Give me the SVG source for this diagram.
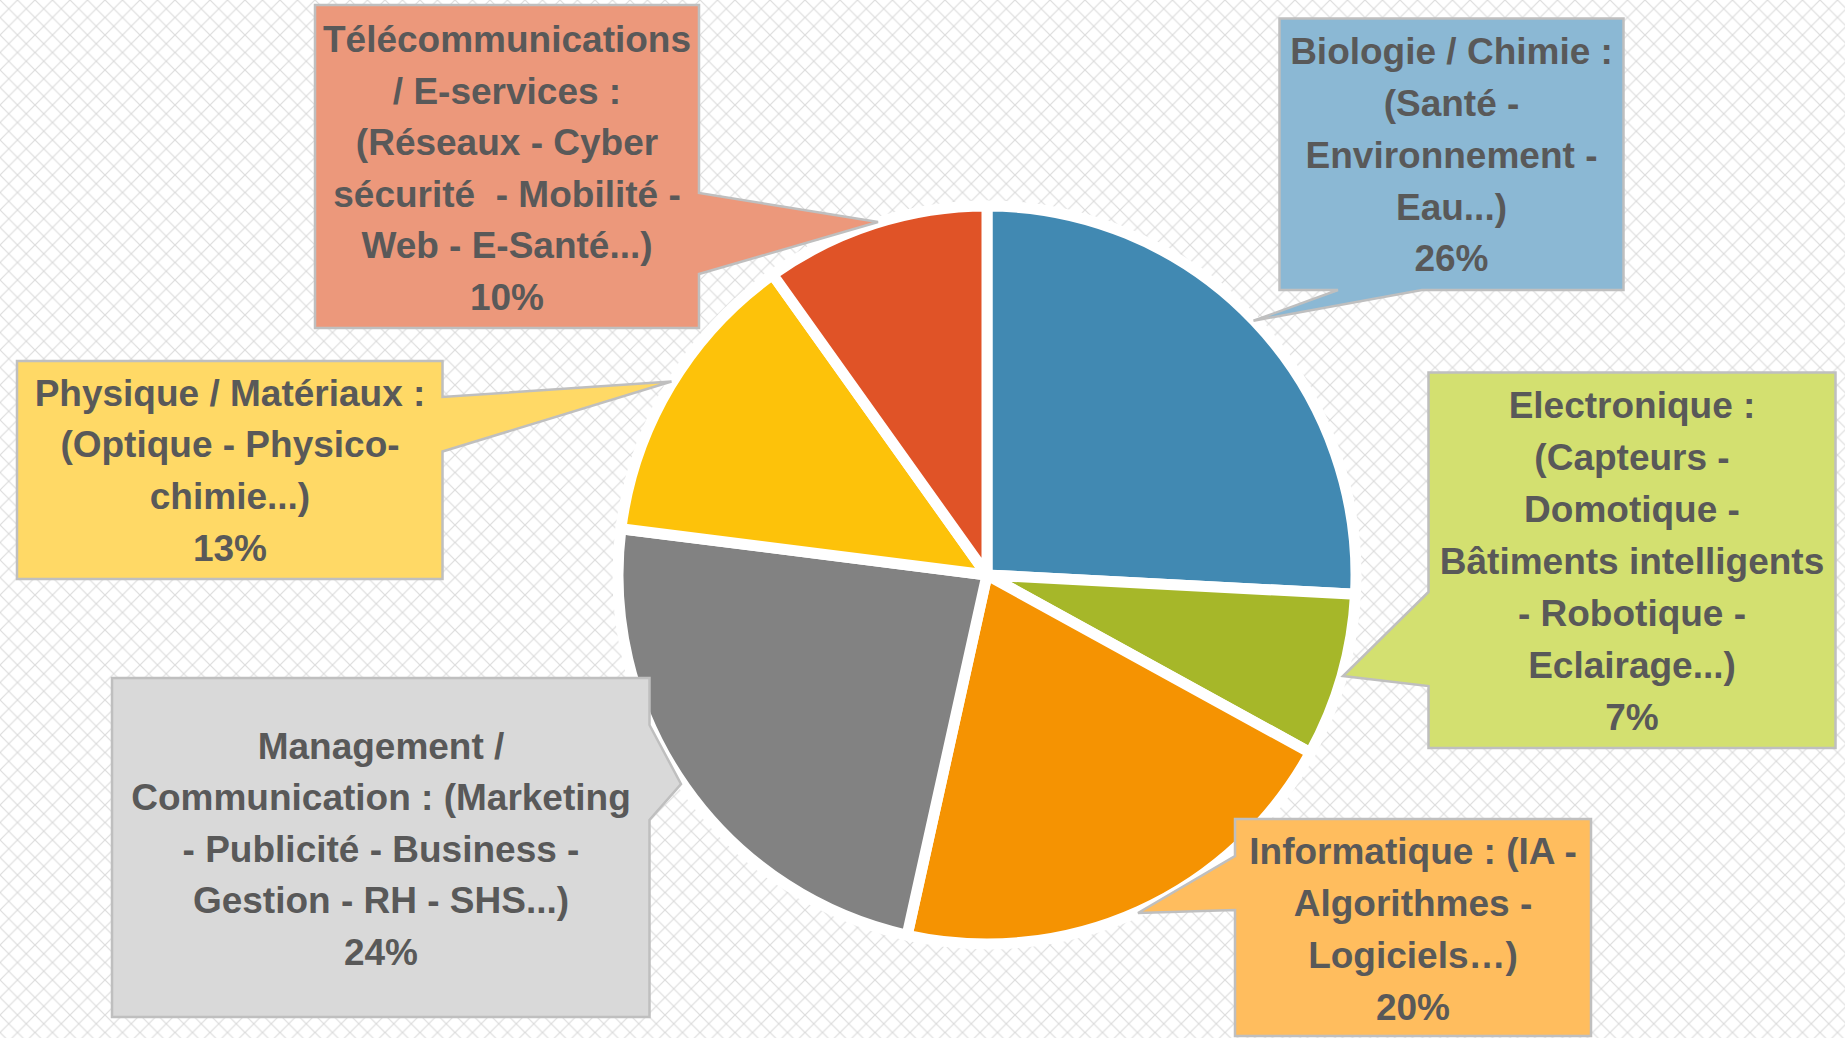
<svg xmlns="http://www.w3.org/2000/svg" width="1845" height="1038" viewBox="0 0 1845 1038">
<defs>
<pattern id="lattice" patternUnits="userSpaceOnUse" width="17.5" height="17.5">
<path d="M0,0 L17.5,17.5 M17.5,0 L0,17.5" stroke="#dcdcdc" stroke-width="1.2" fill="none"/>
</pattern>
<style>
.slice{stroke:#ffffff;stroke-width:11;stroke-linejoin:round}
.callout{stroke:#bfbfbf;stroke-width:2.5;stroke-linejoin:miter}
.lbl{font-family:"Liberation Sans",Arial,sans-serif;font-weight:bold;font-size:37px;fill:#595959;text-anchor:middle}
</style>
</defs>
<rect x="0" y="0" width="1845" height="1038" fill="#ffffff"/>
<rect x="0" y="0" width="1845" height="1038" fill="url(#lattice)"/>

<g id="pie">
<path id="slice-bio" class="slice" fill="#4189b2" d="M987,575 L987,206 A369,369 0 0 1 1355.49,594.31 Z"/>
<path id="slice-elec" class="slice" fill="#a6b729" d="M987,575 L1355.49,594.31 A369,369 0 0 1 1310.36,752.77 Z"/>
<path id="slice-info" class="slice" fill="#f59302" d="M987,575 L1310.36,752.77 A369,369 0 0 1 907.13,935.25 Z"/>
<path id="slice-mgmt" class="slice" fill="#828282" d="M987,575 L907.13,935.25 A369,369 0 0 1 620.91,528.75 Z"/>
<path id="slice-phys" class="slice" fill="#fdc20a" d="M987,575 L620.91,528.75 A369,369 0 0 1 772.72,274.59 Z"/>
<path id="slice-tele" class="slice" fill="#e05327" d="M987,575 L772.72,274.59 A369,369 0 0 1 987,206 Z"/>
</g>

<g id="connectors"></g>

<g id="node-tele">
<path class="callout" fill="#ec987b" d="M315,5 L699,5 L699,193 L878,222 L699,274 L699,328 L315,328 Z"/>
<text class="lbl" x="507" y="52">Télécommunications</text>
<text class="lbl" x="507" y="103.5">/ E-services :</text>
<text class="lbl" x="507" y="155">(Réseaux - Cyber</text>
<text class="lbl" x="507" y="206.5">sécurité&#160; - Mobilité -</text>
<text class="lbl" x="507" y="258">Web - E-Santé...)</text>
<text class="lbl" x="507" y="309.5">10%</text>
</g>

<g id="node-bio">
<path class="callout" fill="#8bb8d4" d="M1279.5,18.5 L1623.5,18.5 L1623.5,290 L1422,290 L1253.5,320.7 L1338,290 L1279.5,290 Z"/>
<text class="lbl" x="1451.5" y="64">Biologie / Chimie :</text>
<text class="lbl" x="1451.5" y="116">(Santé -</text>
<text class="lbl" x="1451.5" y="168">Environnement -</text>
<text class="lbl" x="1451.5" y="220">Eau...)</text>
<text class="lbl" x="1451.5" y="271">26%</text>
</g>

<g id="node-elec">
<path class="callout" fill="#d3e070" d="M1428.5,372.5 L1835.5,372.5 L1835.5,748 L1428.5,748 L1428.5,686 L1343,676 L1428.5,592 Z"/>
<text class="lbl" x="1632" y="418">Electronique :</text>
<text class="lbl" x="1632" y="470">(Capteurs -</text>
<text class="lbl" x="1632" y="522">Domotique -</text>
<text class="lbl" x="1632" y="574">Bâtiments intelligents</text>
<text class="lbl" x="1632" y="626">- Robotique -</text>
<text class="lbl" x="1632" y="678">Eclairage...)</text>
<text class="lbl" x="1632" y="730">7%</text>
</g>

<g id="node-info">
<path class="callout" fill="#ffbd5e" d="M1235,819 L1591,819 L1591,1036 L1235,1036 L1235,910 L1138,913 L1235,856 Z"/>
<text class="lbl" x="1413" y="863.5">Informatique : (IA -</text>
<text class="lbl" x="1413" y="915.5">Algorithmes -</text>
<text class="lbl" x="1413" y="967.5">Logiciels…)</text>
<text class="lbl" x="1413" y="1020">20%</text>
</g>

<g id="node-mgmt">
<path class="callout" fill="#d9d9d9" d="M112,678 L649.5,678 L649.5,725 L681,784 L649.5,820 L649.5,1017 L112,1017 Z"/>
<text class="lbl" x="381" y="758.5">Management /</text>
<text class="lbl" x="381" y="810">Communication : (Marketing</text>
<text class="lbl" x="381" y="861.7">- Publicité - Business -</text>
<text class="lbl" x="381" y="913.3">Gestion - RH - SHS...)</text>
<text class="lbl" x="381" y="965">24%</text>
</g>

<g id="node-phys">
<path class="callout" fill="#ffd966" d="M17,361 L442.5,361 L442.5,397 L671.5,381.5 L442.5,451.5 L442.5,579 L17,579 Z"/>
<text class="lbl" x="230" y="405.7">Physique / Matériaux :</text>
<text class="lbl" x="230" y="457.3">(Optique - Physico-</text>
<text class="lbl" x="230" y="509">chimie...)</text>
<text class="lbl" x="230" y="560.6">13%</text>
</g>
</svg>
